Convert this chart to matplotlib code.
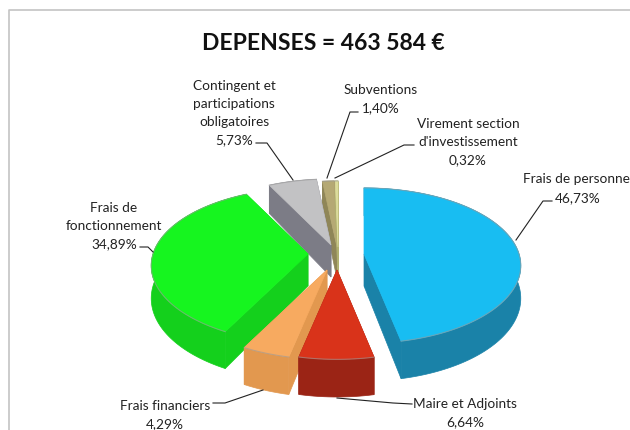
# depenses pie, drawn as a hand projected 3D exploded pie
import numpy as np
import matplotlib
matplotlib.use("Agg")
import matplotlib.pyplot as plt
from matplotlib.patches import Polygon

plt.rcParams['font.family'] = ['Lato', 'DejaVu Sans']

TITLE = "DEPENSES = 463 584 €"
categories = ["Frais de personnel", "Maire et Adjoints", "Frais financiers",
              "Frais de fonctionnement", "Contingent et participations obligatoires",
              "Subventions", "Virement section d'investissement"]
values = [46.73, 6.64, 4.29, 34.89, 5.73, 1.40, 0.32]
value_labels = ["46,73%", "6,64%", "4,29%", "34,89%", "5,73%", "1,40%", "0,32%"]

# styles, per slice
top_colors = ["#18bdf2", "#d9331a", "#f7aa60", "#16f51f", "#c2c2c4", "#b5a974", "#dcdc9c"]
side_colors = ["#1a82a8", "#9b2415", "#e2984f", "#14d01c", "#7c7c86", "#8f8658", "#b0b070"]
# where each slice's centre sits once exploded (pixels)
centres = [(364, 254), (337, 270), (327, 270), (308, 254), (331, 245), (337, 247), (338, 247)]
draw_order = [5, 6, 4, 3, 0, 2, 1]

RADIUS = 155
TILT = 0.49
PERSP = 0.15
DEPTH = 32


def project(centre, t):
    u, v = np.sin(t), -np.cos(t)
    s = 1 / (1 - PERSP * v)
    return centre[0] + RADIUS * u * s, centre[1] + RADIUS * TILT * v * s, s


def draw_slice(ax, centre, t0, t1, top, side):
    ts = np.linspace(t0, t1, max(3, int((t1 - t0) * 40)))
    x, y, s = project(centre, ts)
    d = DEPTH * s
    # cut faces
    for i in (0, -1):
        ax.add_patch(Polygon([centre, (x[i], y[i]), (x[i], y[i] + d[i]),
                              (centre[0], centre[1] + DEPTH)], fc=side, ec=side, lw=0.5))
    # outer rim
    rim = list(zip(x, y)) + list(zip(x[::-1], (y + d)[::-1]))
    ax.add_patch(Polygon(rim, fc=side, ec=side, lw=0.5))
    # top face
    ax.add_patch(Polygon([centre] + list(zip(x, y)), fc=top, ec=top, lw=0.5))
    ax.plot(x, y, color="#9a9a9a", lw=0.8, alpha=0.6)


fig = plt.figure(figsize=(6.3, 4.3), dpi=100)
ax = fig.add_axes([0, 0, 1, 1])
ax.set_xlim(0, 630)
ax.set_ylim(430, 0)
ax.axis("off")

# chart frame
ax.plot([9, 9, 630], [430, 9.5, 9.5], color="#c4c4c4", lw=1.2)

edges = np.concatenate([[0], np.cumsum(values)]) / np.sum(values) * 2 * np.pi
for i in draw_order:
    draw_slice(ax, centres[i], edges[i], edges[i + 1], top_colors[i], side_colors[i])

ax.text(323, 43, TITLE, ha="center", va="center", fontsize=16.5, fontweight="bold", color="#111111")

# labels
TXT = dict(ha="center", va="center", fontsize=9.8, color="#222222", linespacing=1.6)
# runs off the right edge in the reference too
ax.text(523, 179, "Frais de personnel", ha="left", va="center", fontsize=9.8, color="#222222")
ax.text(578, 198, value_labels[0], **TXT)
ax.text(465, 413, "Maire et Adjoints\n" + value_labels[1], **TXT)
ax.text(165, 415, "Frais financiers\n" + value_labels[2], **TXT)
ax.text(114, 226, "Frais de\nfonctionnement\n" + value_labels[3], **TXT)
ax.text(234, 113, "Contingent et\nparticipations\nobligatoires\n" + value_labels[4], **TXT)
ax.text(381, 99, "Subventions\n" + value_labels[5], **TXT)
ax.text(468, 142, "Virement section\nd'investissement\n" + value_labels[6], **TXT)

# leader lines
leaders = [
    [(552, 201), (543, 201), (516, 240)],
    [(412, 404), (393, 403), (337, 398)],
    [(213, 403), (225, 403), (263, 390)],
    [(140, 247), (148, 247), (153, 252)],
    [(256, 143), (267, 143), (293, 180)],
    [(358, 112), (350, 112), (327, 178)],
    [(414, 145), (404, 145), (335, 178)],
]
for pts in leaders:
    ax.plot(*zip(*pts), color="#222222", lw=0.8)

fig.savefig("out.png", dpi=100)
